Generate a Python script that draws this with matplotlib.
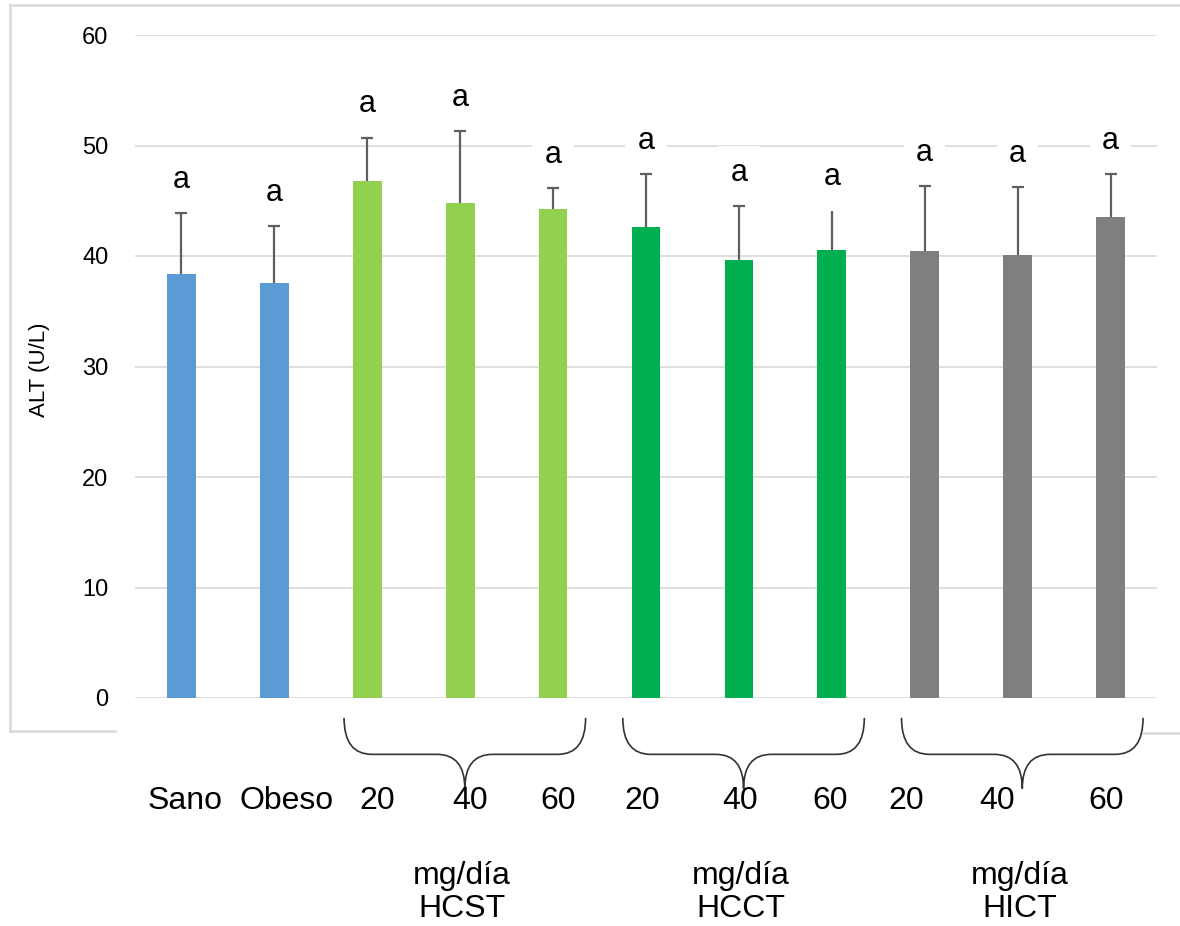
import matplotlib

matplotlib.use("Agg")
import matplotlib.pyplot as plt
import numpy as np
from matplotlib.lines import Line2D
from matplotlib.patches import PathPatch
from matplotlib.path import Path

plt.rcParams["font.family"] = ["Liberation Sans", "DejaVu Sans"]

# ALT per group: mean and upper SD
groups = ["Sano", "Obeso", "20", "40", "60", "20", "40", "60", "20", "40", "60"]
alt_mean = [38.4, 37.55, 46.8, 44.8, 44.25, 42.6, 39.6, 40.5, 40.45, 40.1, 43.5]
alt_sd = [5.5, 5.15, 3.9, 6.5, 1.9, 4.8, 4.9, 3.6, 5.85, 6.1, 3.9]
letters = ["a", "a", "a", "a", "a", "a", "a", "a", "a", "a", "a"]
bar_colors = ["#5B9BD5", "#5B9BD5",
              "#92D050", "#92D050", "#92D050",
              "#00B050", "#00B050", "#00B050",
              "#7F7F7F", "#7F7F7F", "#7F7F7F"]

# treatment blocks: (first bar, last bar, name)
treatments = [(2, 4, "HCST"), (5, 7, "HCCT"), (8, 10, "HICT")]
dose_unit = "mg/día"

# horizontal nudge of the hand-placed group names, in bar widths
name_nudge = [0.04, 0.13, 0.11, 0.11, 0.05, -0.04, 0.01, -0.02, -0.2, -0.22, -0.05]

x = np.arange(len(groups))
mean = np.array(alt_mean)
top = mean + np.array(alt_sd)

fig = plt.figure(figsize=(11.8, 9.26), dpi=100)
ax = fig.add_axes([135 / 1180, 1 - 698 / 926, 1022 / 1180, 663 / 926])

ax.bar(x, mean, width=0.31, color=bar_colors, zorder=2)

# upper error bars only
ax.vlines(x, mean, top, color="#5f5f5f", linewidth=1.6, zorder=3)
capped = np.ones(len(x), dtype=bool)
capped[7] = False
ax.plot(x[capped], top[capped], linestyle="none", marker="_",
        markersize=8, markeredgewidth=1.6, color="#5f5f5f", zorder=3)

for xi, yi, letter in zip(x, top, letters):
    ax.annotate(letter, (xi, yi), xytext=(0, 24), textcoords="offset points",
                ha="center", va="center", fontsize=22, zorder=5,
                bbox=dict(boxstyle="square,pad=0.4", fc="white", ec="none"))

ax.set_xlim(-0.5, len(groups) - 0.5)
ax.set_ylim(0, 60)
ax.set_yticks(np.arange(0, 61, 10))
ax.tick_params(axis="y", length=0, pad=19, labelsize=17)
ax.set_xticks([])
ax.grid(axis="y", color="#d9d9d9", linewidth=1.2)
ax.set_axisbelow(True)
for spine in ax.spines.values():
    spine.set_visible(False)

# group names under the bars
for xi, name, nudge in zip(x, groups, name_nudge):
    ax.text(xi + nudge, -9.3, name, ha="center", va="center", fontsize=23,
            clip_on=False)

# curly braces under each treatment block
brace_top, brace_flat, brace_tip = -1.8, -5.1, -8.2
r = 0.3
for first, last, name in treatments:
    left, right = first - 0.25, last + 0.35
    mid = (left + right) / 2
    verts = [
        (left, brace_top), (left, brace_flat), (left + r, brace_flat),
        (mid - r, brace_flat), (mid, brace_flat), (mid, brace_tip),
        (right, brace_top), (right, brace_flat), (right - r, brace_flat),
        (mid + r, brace_flat), (mid, brace_flat), (mid, brace_tip),
    ]
    codes = [Path.MOVETO, Path.CURVE3, Path.CURVE3,
             Path.LINETO, Path.CURVE3, Path.CURVE3] * 2
    ax.add_patch(PathPatch(Path(verts, codes), fill=False, edgecolor="#333333",
                           linewidth=1.2, clip_on=False))
    ax.text(mid - 0.03, -17.6, f"{dose_unit}\n{name}", ha="center", va="center",
            fontsize=23, linespacing=1.15, clip_on=False)

fig.text(40 / 1180, 1 - 370 / 926, "ALT (U/L)", rotation=90,
         ha="center", va="center", fontsize=16)

# chart frame, partly hidden behind the brace area
frame = dict(color="#d9d9d9", linewidth=1.8, transform=fig.transFigure)
fig.add_artist(Line2D([10 / 1180, 10 / 1180], [1 - 5 / 926, 1 - 731 / 926], **frame))
fig.add_artist(Line2D([10 / 1180, 1.0], [1 - 5 / 926, 1 - 5 / 926], **frame))
fig.add_artist(Line2D([10 / 1180, 115 / 1180], [1 - 731 / 926, 1 - 731 / 926], **frame))
fig.add_artist(Line2D([1143 / 1180, 1.0], [1 - 733 / 926, 1 - 733 / 926], **frame))

fig.savefig("out.png", dpi=100)
